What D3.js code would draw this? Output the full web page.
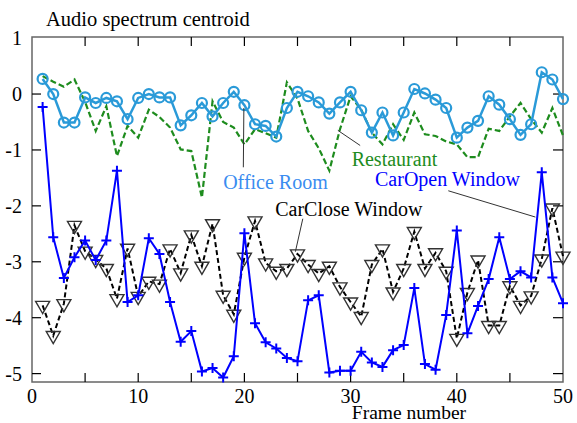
<!DOCTYPE html>
<html>
<head>
<meta charset="utf-8">
<script src="https://cdn.jsdelivr.net/npm/d3@7"></script>
<style>
  body { margin: 0; background: #fff; }
</style>
</head>
<body>
<svg id="chart" width="577" height="423" font-family="'Liberation Serif', 'DejaVu Serif', serif"></svg>
<script>
// frame index 1..50
const frames = [1,2,3,4,5,6,7,8,9,10,11,12,13,14,15,16,17,18,19,20,
  21,22,23,24,25,26,27,28,29,30,31,32,33,34,35,36,37,38,39,40,
  41,42,43,44,45,46,47,48,49,50];

const officeRoom = [0.27,0.0,-0.51,-0.51,-0.06,-0.16,-0.07,-0.13,-0.45,-0.07,
  0.0,-0.06,-0.06,-0.56,-0.38,-0.16,-0.40,-0.16,0.04,-0.2,
  -0.54,-0.57,-0.76,-0.25,0.04,-0.04,-0.15,-0.35,-0.15,0.04,
  -0.29,-0.69,-0.33,-0.74,-0.33,0.09,0.01,-0.1,-0.25,-0.78,
  -0.6,-0.48,-0.04,-0.19,-0.45,-0.73,-0.54,0.39,0.26,-0.09];

const restaurant = [0.32,0.22,0.13,0.26,-0.14,-0.66,-0.22,-1.11,-0.57,-0.78,
  -0.28,-0.41,-0.6,-0.99,-1.02,-1.85,-0.13,-0.5,-0.6,-0.9,
  -0.63,-0.7,-0.78,0.21,-0.08,-0.66,-0.97,-1.37,-0.63,-0.04,
  -0.28,-0.69,-0.9,-0.54,-0.82,-0.33,-0.72,-0.75,-0.85,-0.9,
  -1.13,-1.13,-0.62,-0.66,-0.4,-0.16,-0.45,-0.69,-0.25,-0.74];

const carOpen = [-0.23,-2.56,-3.29,-2.92,-2.62,-2.97,-2.62,-1.37,-3.72,-3.6,
  -2.58,-2.86,-3.72,-4.43,-4.24,-4.96,-4.9,-5.07,-4.69,-2.49,
  -4.1,-4.44,-4.55,-4.72,-4.78,-3.69,-3.6,-4.98,-4.95,-4.95,
  -4.61,-4.8,-4.88,-4.58,-4.49,-3.47,-4.83,-4.93,-3.95,-2.44,
  -4.28,-3.79,-3.31,-2.56,-3.31,-3.17,-3.28,-1.4,-3.28,-3.74];

const carClose = [-3.78,-4.32,-3.75,-2.35,-2.81,-2.96,-3.12,-3.66,-2.76,-3.62,
  -3.35,-3.4,-2.77,-3.2,-2.52,-3.08,-2.32,-3.6,-3.94,-2.92,
  -2.27,-3.02,-3.17,-3.12,-2.86,-3.05,-3.21,-3.08,-3.45,-3.72,
  -3.98,-3.05,-2.77,-3.54,-3.12,-2.46,-3.12,-2.84,-3.17,-4.37,
  -3.55,-2.97,-4.14,-4.14,-3.43,-3.78,-3.61,-2.95,-2.04,-2.9];

const xTicks = [0,10,20,30,40,50];
const yTicks = [1,0,-1,-2,-3,-4,-5];

// label text, label anchor and leader line ends, in data units
const notes = [
  {text: "Office Room", color: "#3a8cf0", x: 18.0, y: -1.70, lx1: 19.95, ly1: -0.25, lx2: 19.9, ly2: -1.31},
  {text: "Restaurant", color: "#1e8c1e", x: 30.1, y: -1.29, lx1: 28.8, ly1: -0.65, lx2: 30.9, ly2: -0.92},
  {text: "CarOpen Window", color: "#0000ff", x: 32.3, y: -1.65, lx1: 39.2, ly1: -1.73, lx2: 47.4, ly2: -2.2},
  {text: "CarClose Window", color: "#000", x: 22.9, y: -2.18, lx1: 25.5, ly1: -2.23, lx2: 24.8, ly2: -2.82}
];

const svg = d3.select("#chart");
const pLeft = 32, pRight = 563, pTop = 37, pBottom = 382;

const x = d3.scaleLinear().domain([0, 50]).range([pLeft, pRight]);
const y = d3.scaleLinear().domain([-5.15, 1.02]).range([pBottom, pTop]);

// frame + inward ticks
const frame = svg.append("g");
frame.append("rect")
  .attr("x", pLeft).attr("y", pTop)
  .attr("width", pRight - pLeft).attr("height", pBottom - pTop)
  .attr("fill", "none").attr("stroke", "#666").attr("stroke-width", 1.5);

const minorX = d3.range(5, 50, 5);
frame.selectAll(".tb").data(minorX).enter().append("line")
  .attr("x1", d => x(d)).attr("x2", d => x(d))
  .attr("y1", pBottom).attr("y2", pBottom - 9)
  .attr("stroke", "#000").attr("stroke-width", 1.2);
frame.selectAll(".tt").data(minorX).enter().append("line")
  .attr("x1", d => x(d)).attr("x2", d => x(d))
  .attr("y1", pTop).attr("y2", pTop + 9)
  .attr("stroke", "#000").attr("stroke-width", 1.2);
const innerY = yTicks.filter(d => d !== 1);
frame.selectAll(".tl").data(innerY).enter().append("line")
  .attr("x1", pLeft).attr("x2", pLeft + 9)
  .attr("y1", d => y(d)).attr("y2", d => y(d))
  .attr("stroke", "#000").attr("stroke-width", 1.2);
frame.selectAll(".tr").data(innerY).enter().append("line")
  .attr("x1", pRight).attr("x2", pRight - 10)
  .attr("y1", d => y(d)).attr("y2", d => y(d))
  .attr("stroke", "#000").attr("stroke-width", 1.2);

svg.selectAll(".xl").data(xTicks).enter().append("text")
  .attr("x", d => x(d)).attr("y", 403)
  .attr("text-anchor", "middle").attr("font-size", 20)
  .text(d => d);
svg.selectAll(".yl").data(yTicks).enter().append("text")
  .attr("x", 22).attr("y", d => y(d) + 7)
  .attr("text-anchor", "end").attr("font-size", 20)
  .text(d => d);

svg.append("text").attr("x", 46).attr("y", 26).attr("font-size", 20.5)
  .text("Audio spectrum centroid");
svg.append("text").attr("x", 409).attr("y", 419).attr("text-anchor", "middle")
  .attr("font-size", 19.5).text("Frame number");

const line = vals => d3.line().x((d, i) => x(frames[i])).y(d => y(d))(vals);

// CarClose Window
svg.append("path").attr("d", line(carClose))
  .attr("fill", "none").attr("stroke", "#000").attr("stroke-width", 2)
  .attr("stroke-dasharray", "5,3");
const tri = d3.symbol().type(d3.symbolTriangle).size(85);
svg.selectAll(".cc").data(carClose).enter().append("path")
  .attr("d", tri)
  .attr("transform", (d, i) => `translate(${x(frames[i])},${y(d)}) rotate(180)`)
  .attr("fill", "none").attr("stroke", "#333").attr("stroke-width", 1.4);

// CarOpen Window
svg.append("path").attr("d", line(carOpen))
  .attr("fill", "none").attr("stroke", "#0000ff").attr("stroke-width", 2);
svg.selectAll(".co").data(carOpen).enter().append("path")
  .attr("d", "M-5,0H5M0,-5V5")
  .attr("transform", (d, i) => `translate(${x(frames[i])},${y(d)})`)
  .attr("stroke", "#0000ff").attr("stroke-width", 2);

// Restaurant
svg.append("path").attr("d", line(restaurant))
  .attr("fill", "none").attr("stroke", "#1e8c1e").attr("stroke-width", 2.2)
  .attr("stroke-dasharray", "6,3");

// Office Room
svg.append("path").attr("d", line(officeRoom))
  .attr("fill", "none").attr("stroke", "#2a9ad8").attr("stroke-width", 2.5);
svg.selectAll(".or").data(officeRoom).enter().append("circle")
  .attr("cx", (d, i) => x(frames[i])).attr("cy", d => y(d)).attr("r", 5)
  .attr("fill", "none").attr("stroke", "#2a9ad8").attr("stroke-width", 2.2);

// annotations
const ann = svg.append("g");
ann.selectAll("line").data(notes).enter().append("line")
  .attr("x1", d => x(d.lx1)).attr("y1", d => y(d.ly1))
  .attr("x2", d => x(d.lx2)).attr("y2", d => y(d.ly2))
  .attr("stroke", "#333").attr("stroke-width", 1);
ann.selectAll("text").data(notes).enter().append("text")
  .attr("x", d => x(d.x)).attr("y", d => y(d.y))
  .attr("font-size", 20).attr("fill", d => d.color)
  .text(d => d.text);
</script>
</body>
</html>
